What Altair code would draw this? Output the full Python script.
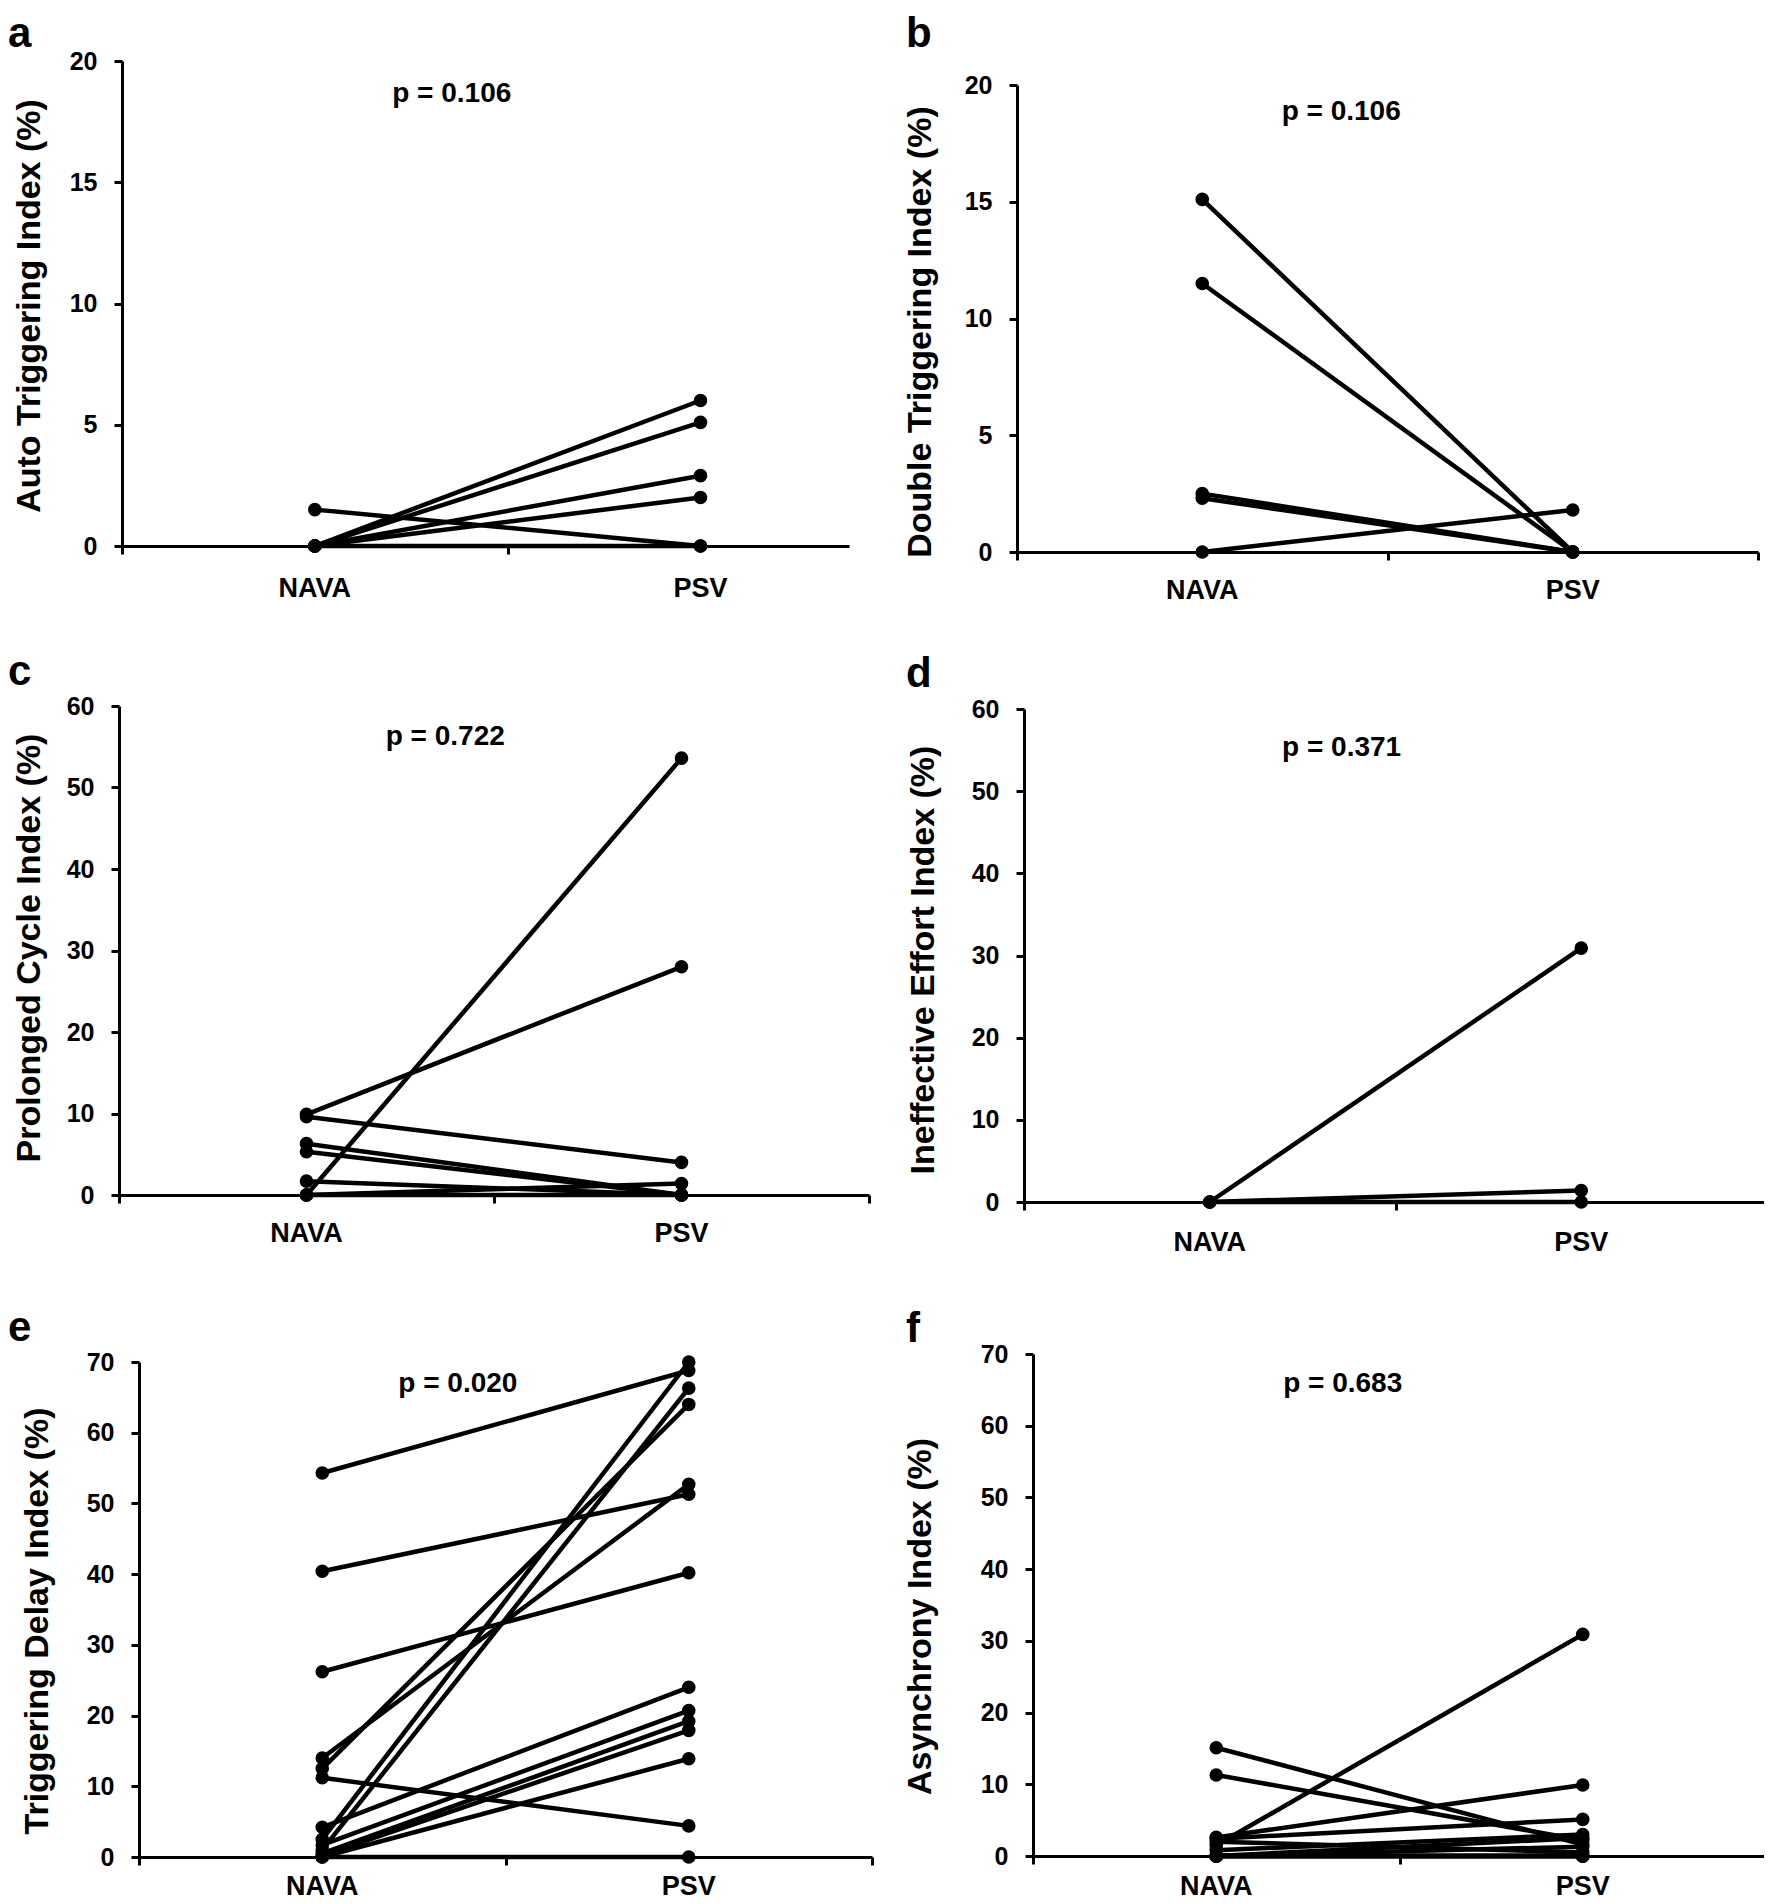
import altair as alt
import pandas as pd

# ---------------- data ----------------
categories = ["NAVA", "PSV"]

auto_nava = [1.5, 0.0, 0.0, 0.0, 0.0, 0.0]
auto_psv = [0.0, 6.0, 5.1, 2.9, 2.0, 0.0]

double_nava = [15.1, 11.5, 2.5, 2.3, 0.0]
double_psv = [0.0, 0.0, 0.0, 0.0, 1.8]

prolonged_nava = [0.0, 9.9, 9.6, 6.3, 5.3, 1.7, 0.0, 0.0]
prolonged_psv = [53.6, 28.0, 4.0, 0.0, 0.0, 0.0, 1.4, 0.0]

ineffective_nava = [0.0, 0.0, 0.0]
ineffective_psv = [30.9, 1.4, 0.0]

delay_nava = [54.3, 40.4, 26.2, 14.0, 12.5, 11.2, 4.2, 2.5, 1.7, 1.0, 0.5, 0.2, 0.0, 0.0]
delay_psv = [68.8, 51.3, 40.2, 52.7, 64.0, 4.4, 24.0, 70.0, 20.7, 66.3, 19.2, 17.9, 13.9, 0.0]

async_nava = [15.1, 11.3, 1.5, 2.6, 2.4, 2.0, 0.8, 0.0, 0.0, 0.0, 0.0, 0.0, 0.0, 0.0]
async_psv = [1.6, 2.2, 30.9, 9.9, 5.1, 0.5, 3.0, 2.5, 1.3, 0.0, 0.0, 0.0, 0.0, 0.0]

titles = [
    "Auto Triggering Index (%)",
    "Double Triggering Index (%)",
    "Prolonged Cycle Index (%)",
    "Ineffective Effort Index (%)",
    "Triggering Delay Index (%)",
    "Asynchrony Index (%)",
]
p_values = ["p = 0.106", "p = 0.106", "p = 0.722", "p = 0.371", "p = 0.020", "p = 0.683"]
letters = ["a", "b", "c", "d", "e", "f"]
y_max = [20, 20, 60, 60, 70, 70]
y_step = [5, 5, 10, 10, 10, 10]

# ---------------- layout (pixels, per panel) ----------------
CELL_W = 734
ORIGIN_X = 131   # first column cell starts at page x = 8 + 131
ORIGIN_Y = 38    # first row cell starts at page y = 8 + 38
SVG_W = 1756
SVG_H = 1896
layout = [
    dict(H=500, yoff=0, ph=485, x0=-17, x1=710, xmax=3.77, xt=[0, 2], axoff=17, tx=-93, tdy=2, ldy=51, lx=-131, ly=1, px=1.71, py=18.3),
    dict(H=500, yoff=6, ph=467, x0=-16, x1=725, xmax=4, xt=[0, 2, 4], axoff=16, tx=-97, tdy=13, ldy=47, lx=-127, ly=1, px=1.75, py=18.5),
    dict(H=499, yoff=0, ph=489, x0=-20, x1=730, xmax=4, xt=[0, 2, 4], axoff=20, tx=-90, tdy=-3, ldy=47, lx=-131, ly=-11, px=1.74, py=55.2),
    dict(H=499, yoff=7, ph=493, x0=-9, x1=734, xmax=4, xt=[0, 2, 4], axoff=9, tx=-101, tdy=4, ldy=49, lx=-127, ly=-9, px=1.71, py=54.3),
    dict(H=511, yoff=1, ph=495, x0=0, x1=733, xmax=4, xt=[0, 2, 4], axoff=0, tx=-102, tdy=11, ldy=38, lx=-131, ly=-4, px=1.74, py=65.8),
    dict(H=511, yoff=0, ph=502, x0=0, x1=733, xmax=4, xt=[0, 2, 4], axoff=0, tx=-113, tdy=11, ldy=39, lx=-127, ly=-3, px=1.69, py=64.7),
]

series = [
    (auto_nava, auto_psv),
    (double_nava, double_psv),
    (prolonged_nava, prolonged_psv),
    (ineffective_nava, ineffective_psv),
    (delay_nava, delay_psv),
    (async_nava, async_psv),
]

CAT_POS = {"NAVA": 1, "PSV": 3}
FONT = "Liberation Sans"


def make_panel(i):
    nava, psv = series[i]
    cfg = layout[i]
    rows = []
    for pid, (a, b) in enumerate(zip(nava, psv)):
        rows.append({"pid": pid, "pos": CAT_POS["NAVA"], "v": a})
        rows.append({"pid": pid, "pos": CAT_POS["PSV"], "v": b})
    df = pd.DataFrame(rows)

    ybot = cfg["H"] + cfg["yoff"]
    ytop = ybot - cfg["ph"]
    xscale = alt.Scale(domain=[0, cfg["xmax"]], range=[cfg["x0"], cfg["x1"]], nice=False, zero=False)
    yscale = alt.Scale(domain=[0, y_max[i]], range=[ybot, ytop], nice=False)

    xaxis = alt.Axis(values=cfg["xt"], labels=False, title=None, grid=False,
                     offset=cfg["yoff"], tickSize=8)
    yaxis = alt.Axis(values=list(range(0, y_max[i] + 1, y_step[i])), title=titles[i], grid=False,
                     offset=cfg["axoff"], titleX=cfg["tx"], titleY=(ybot + ytop) / 2 + cfg["tdy"],
                     titleAngle=270, titleAlign="center", titleBaseline="middle")

    x_enc = alt.X("pos:Q", scale=xscale, axis=xaxis)
    y_enc = alt.Y("v:Q", scale=yscale, axis=yaxis)

    lines = alt.Chart(df).mark_line(color="black", strokeWidth=4.5).encode(
        x=x_enc, y=y_enc, detail="pid:N")
    points = alt.Chart(df).mark_circle(color="black", size=185, opacity=1).encode(
        x=x_enc, y=y_enc)

    cat_df = pd.DataFrame({"pos": [CAT_POS[c] for c in categories], "label": categories})
    cat_text = alt.Chart(cat_df).mark_text(
        font=FONT, fontSize=27, fontWeight="bold", color="black", baseline="alphabetic", align="center"
    ).encode(x=x_enc, y=alt.value(ybot + cfg["ldy"]), text="label:N")

    p_df = pd.DataFrame({"pos": [cfg["px"]], "v": [cfg["py"]], "label": [p_values[i]]})
    p_text = alt.Chart(p_df).mark_text(
        font=FONT, fontSize=28, fontWeight="bold", color="black", baseline="alphabetic", align="center"
    ).encode(x=x_enc, y=y_enc, text="label:N")

    l_df = pd.DataFrame({"label": [letters[i]]})
    letter = alt.Chart(l_df).mark_text(
        font=FONT, fontSize=42, fontWeight="bold", color="black", baseline="alphabetic", align="left"
    ).encode(x=alt.value(cfg["lx"]), y=alt.value(cfg["ly"]), text="label:N")

    return alt.layer(lines, points, cat_text, p_text, letter).properties(width=CELL_W, height=cfg["H"])


panels = [make_panel(i) for i in range(6)]

chart = alt.concat(
    *panels, columns=2, spacing={"row": 150, "column": 160}, bounds="flush",
    autosize=alt.AutoSizeParams(type="none"),
    padding={"left": ORIGIN_X, "top": ORIGIN_Y, "right": SVG_W - ORIGIN_X, "bottom": SVG_H - ORIGIN_Y},
    background="white"
).configure_view(stroke=None).configure_axis(
    domainColor="black", domainWidth=3, tickColor="black", tickWidth=3, tickSize=8,
    labelFont=FONT, labelFontSize=25, labelFontWeight="bold", labelColor="black", labelPadding=17,
    titleFont=FONT, titleFontSize=34, titleFontWeight="bold", titleColor="black",
)

chart.save("out.html", embed_options={"renderer": "svg", "actions": False})
